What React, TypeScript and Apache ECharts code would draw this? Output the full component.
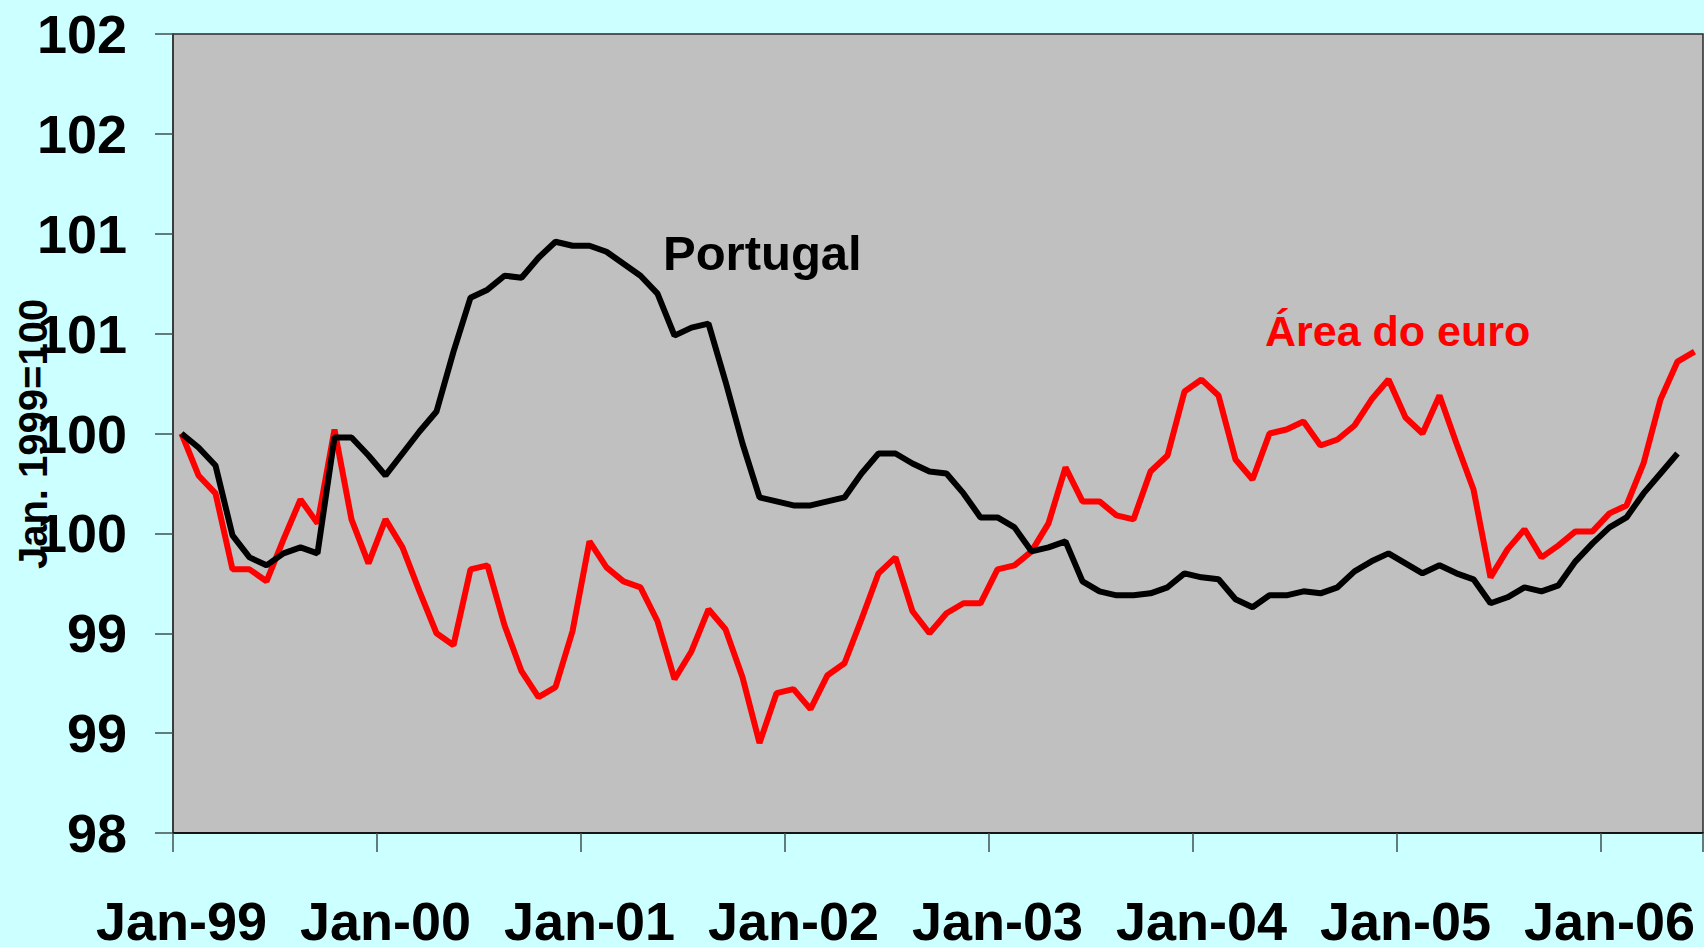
import React, { useEffect, useRef } from "react";
import * as echarts from "echarts";

const monthNames = ["Jan", "Feb", "Mar", "Apr", "May", "Jun", "Jul", "Aug", "Sep", "Oct", "Nov", "Dec"];
const yearSuffixes = ["99", "00", "01", "02", "03", "04", "05", "06"];
const monthCount = 90;

const categories: string[] = [];
for (const y of yearSuffixes) {
  for (const m of monthNames) {
    if (categories.length < monthCount) categories.push(`${m}-${y}`);
  }
}

const portugal = [
  100.0, 99.93, 99.84, 99.49, 99.38, 99.34, 99.4, 99.43, 99.4, 99.98, 99.98, 99.89,
  99.79, 99.9, 100.01, 100.11, 100.41, 100.68, 100.72, 100.79, 100.78, 100.88, 100.96, 100.94,
  100.94, 100.91, 100.85, 100.79, 100.7, 100.49, 100.53, 100.55, 100.26, 99.95, 99.68, 99.66,
  99.64, 99.64, 99.66, 99.68, 99.8, 99.9, 99.9, 99.85, 99.81, 99.8, 99.7, 99.58,
  99.58, 99.53, 99.41, 99.43, 99.46, 99.26, 99.21, 99.19, 99.19, 99.2, 99.23, 99.3,
  99.28, 99.27, 99.17, 99.13, 99.19, 99.19, 99.21, 99.2, 99.23, 99.31, 99.36, 99.4,
  99.35, 99.3, 99.34, 99.3, 99.27, 99.15, 99.18, 99.23, 99.21, 99.24, 99.36, 99.45,
  99.53, 99.58, 99.7, 99.8, 99.9,
];

const areaEuro = [
  100.0, 99.79, 99.7, 99.32, 99.32, 99.26, 99.47, 99.67, 99.55, 100.02, 99.57, 99.35,
  99.57, 99.43, 99.21, 99.0, 98.94, 99.32, 99.34, 99.04, 98.81, 98.68, 98.73, 99.01,
  99.46, 99.33, 99.26, 99.23, 99.06, 98.77, 98.91, 99.12, 99.02, 98.78, 98.45, 98.7,
  98.72, 98.62, 98.79, 98.85, 99.07, 99.3, 99.38, 99.11, 99.0, 99.1, 99.15, 99.15,
  99.32, 99.34, 99.41, 99.55, 99.83, 99.66, 99.66, 99.59, 99.57, 99.81, 99.89, 100.21,
  100.27, 100.19, 99.87, 99.77, 100.0, 100.02, 100.06, 99.94, 99.97, 100.04, 100.17, 100.27,
  100.08, 100.0, 100.19, 99.95, 99.72, 99.28, 99.42, 99.52, 99.38, 99.44, 99.51, 99.51,
  99.6, 99.64, 99.85, 100.17, 100.36, 100.41,
];

const yAxisTitle = "Jan. 1999=100";

const FONT = "Arial, 'Liberation Sans', Helvetica, sans-serif";

export default function App() {
  const ref = useRef<HTMLDivElement>(null);

  useEffect(() => {
    if (!ref.current) return;
    const chart = echarts.init(ref.current, undefined, { renderer: "svg" });
    chart.setOption({
      animation: false,
      backgroundColor: "#CCFFFF",
      grid: {
        left: 173,
        right: 1,
        top: 34,
        bottom: 114,
        containLabel: false,
        outerBoundsMode: "none",
        show: true,
        backgroundColor: "#C0C0C0",
        borderColor: "#2a2a2a",
        borderWidth: 1.5,
      },
      xAxis: {
        type: "category",
        data: categories,
        boundaryGap: true,
        axisLine: { show: true, lineStyle: { color: "#000", width: 1.5 } },
        axisTick: {
          show: true,
          interval: 11,
          alignWithLabel: false,
          length: 19,
          lineStyle: { color: "#3f4f4f", width: 1.5 },
        },
        axisLabel: {
          interval: 11,
          fontSize: 54,
          lineHeight: 44,
          fontWeight: "bold",
          fontFamily: FONT,
          color: "#000",
          margin: 66,
        },
        splitLine: { show: false },
      },
      yAxis: {
        type: "value",
        min: 98,
        max: 102,
        interval: 0.5,
        axisLine: { show: true, lineStyle: { color: "#333", width: 1.5 } },
        axisTick: {
          show: true,
          inside: false,
          length: 18,
          lineStyle: { color: "#3f4f4f", width: 1.5 },
        },
        axisLabel: {
          formatter: (v: number) => String(Math.round(v)),
          fontSize: 54,
          fontWeight: "bold",
          fontFamily: FONT,
          color: "#000",
          margin: 46,
        },
        splitLine: { show: false },
      },
      series: [
        {
          name: "Portugal",
          type: "line",
          data: portugal,
          symbol: "none",
          lineStyle: { color: "#000000", width: 6 },
          z: 3,
        },
        {
          name: "Área do euro",
          type: "line",
          data: areaEuro,
          symbol: "none",
          lineStyle: { color: "#FF0000", width: 6 },
          z: 2,
        },
      ],
      graphic: [
        {
          type: "text",
          x: 33,
          y: 434,
          rotation: Math.PI / 2,
          style: {
            text: yAxisTitle,
            font: `bold 40px ${FONT}`,
            fill: "#000",
            textAlign: "center",
            textVerticalAlign: "middle",
          },
          z: 10,
        },
        {
          type: "text",
          left: 663,
          top: 228,
          style: {
            text: "Portugal",
            font: `bold 49px ${FONT}`,
            fill: "#000",
          },
          z: 10,
        },
        {
          type: "text",
          left: 1265,
          top: 309,
          style: {
            text: "Área do euro",
            font: `bold 43px ${FONT}`,
            fill: "#FF0000",
          },
          z: 10,
        },
      ],
    });
    return () => chart.dispose();
  }, []);

  return (
    <div
      ref={ref}
      style={{ position: "fixed", left: 0, top: 0, width: 1704, height: 947 }}
    />
  );
}
